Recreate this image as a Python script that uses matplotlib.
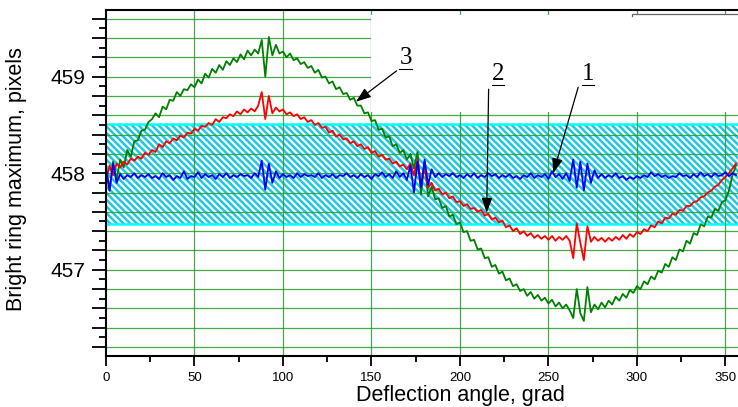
#!/usr/bin/env python3
"""Bright ring maximum vs deflection angle, three curves with a tolerance band."""

import matplotlib
import matplotlib.pyplot as plt
import numpy as np
from matplotlib.patches import Rectangle
from matplotlib.ticker import FuncFormatter, MultipleLocator

matplotlib.use("Agg")

plt.rcParams["font.family"] = ["Liberation Sans", "DejaVu Sans"]
plt.rcParams["hatch.color"] = "#1ec8e0"
plt.rcParams["hatch.linewidth"] = 1.8

# sampled every 2 grad, 0 .. 356
angles = np.arange(0, 357, 2)

curve3_green = [
    458.05, 457.82, 458.12, 457.93, 458.14, 458.06, 458.24, 458.17, 458.33, 458.34,
    458.44, 458.45, 458.53, 458.56, 458.62, 458.58, 458.69, 458.66, 458.76, 458.75,
    458.84, 458.80, 458.87, 458.86, 458.92, 458.89, 458.97, 458.93, 459.03, 458.99,
    459.08, 459.04, 459.12, 459.07, 459.16, 459.12, 459.19, 459.15, 459.23, 459.18,
    459.27, 459.22, 459.28, 459.24, 459.38, 459.00, 459.41, 459.22, 459.33, 459.24,
    459.26, 459.20, 459.24, 459.17, 459.19, 459.13, 459.15, 459.09, 459.11, 459.04,
    459.07, 458.99, 459.00, 458.93, 458.95, 458.87, 458.89, 458.82, 458.83, 458.76,
    458.78, 458.70, 458.70, 458.62, 458.63, 458.54, 458.55, 458.45, 458.46, 458.37,
    458.38, 458.28, 458.30, 458.21, 458.24, 458.14, 458.20, 458.05, 458.22, 457.78,
    458.12, 457.76, 457.86, 457.73, 457.74, 457.64, 457.66, 457.55, 457.57, 457.47,
    457.49, 457.39, 457.40, 457.30, 457.31, 457.21, 457.22, 457.12, 457.13, 457.03,
    457.05, 456.96, 456.98, 456.89, 456.91, 456.83, 456.85, 456.78, 456.80, 456.73,
    456.77, 456.70, 456.74, 456.68, 456.71, 456.65, 456.69, 456.62, 456.66, 456.60,
    456.64, 456.58, 456.50, 456.80, 456.55, 456.47, 456.82, 456.56, 456.64, 456.59,
    456.66, 456.61, 456.68, 456.64, 456.72, 456.68, 456.75, 456.71, 456.79, 456.76,
    456.83, 456.80, 456.88, 456.85, 456.93, 456.90, 456.99, 456.97, 457.06, 457.03,
    457.13, 457.10, 457.21, 457.19, 457.30, 457.27, 457.38, 457.36, 457.47, 457.45,
    457.55, 457.54, 457.63, 457.61, 457.70, 457.72, 457.82, 457.98, 458.08,
]

curve2_red = [
    457.92, 458.08, 457.98, 458.10, 458.06, 458.12, 458.09, 458.15, 458.13, 458.17,
    458.15, 458.21, 458.19, 458.24, 458.22, 458.30, 458.27, 458.33, 458.31, 458.36,
    458.34, 458.39, 458.37, 458.42, 458.41, 458.46, 458.44, 458.49, 458.48, 458.52,
    458.50, 458.56, 458.53, 458.58, 458.57, 458.61, 458.59, 458.64, 458.61, 458.66,
    458.63, 458.67, 458.64, 458.70, 458.84, 458.56, 458.80, 458.62, 458.68, 458.64,
    458.66, 458.61, 458.63, 458.59, 458.61, 458.56, 458.58, 458.53, 458.55, 458.50,
    458.52, 458.47, 458.48, 458.42, 458.44, 458.38, 458.40, 458.35, 458.36, 458.31,
    458.33, 458.28, 458.30, 458.25, 458.27, 458.21, 458.23, 458.17, 458.19, 458.14,
    458.15, 458.10, 458.12, 458.07, 458.09, 458.04, 458.10, 457.98, 458.14, 457.88,
    458.06, 457.85, 457.90, 457.82, 457.84, 457.78, 457.80, 457.74, 457.76, 457.70,
    457.71, 457.66, 457.68, 457.63, 457.64, 457.60, 457.62, 457.56, 457.58, 457.52,
    457.54, 457.49, 457.51, 457.44, 457.46, 457.40, 457.43, 457.37, 457.40, 457.35,
    457.38, 457.33, 457.36, 457.32, 457.35, 457.31, 457.35, 457.30, 457.34, 457.31,
    457.35, 457.30, 457.12, 457.48, 457.28, 457.10, 457.45, 457.29, 457.34, 457.30,
    457.33, 457.29, 457.33, 457.30, 457.34, 457.31, 457.36, 457.32, 457.37, 457.34,
    457.39, 457.37, 457.42, 457.40, 457.46, 457.44, 457.50, 457.48, 457.54, 457.53,
    457.58, 457.57, 457.62, 457.61, 457.66, 457.66, 457.70, 457.71, 457.75, 457.76,
    457.80, 457.82, 457.86, 457.88, 457.93, 457.96, 458.00, 458.05, 458.10,
]

curve1_blue = [
    458.06, 457.82, 458.10, 457.90, 457.99, 457.94, 457.98, 457.96, 458.00, 457.95,
    457.98, 457.96, 457.99, 457.95, 457.97, 457.94, 458.00, 457.96, 457.98, 457.93,
    457.97, 457.95, 458.02, 457.94, 457.97, 457.96, 458.01, 457.95, 457.99, 457.96,
    457.98, 457.94, 457.99, 457.96, 458.00, 457.95, 457.98, 457.96, 457.99, 457.97,
    457.98, 457.95, 458.00, 457.96, 458.13, 457.83, 458.10, 457.90, 458.02, 457.95,
    457.99, 457.96, 457.98, 457.95, 458.00, 457.96, 457.99, 457.97, 457.98, 457.96,
    458.00, 457.95, 457.98, 457.96, 457.99, 457.95, 457.98, 457.97, 458.00, 457.96,
    457.98, 457.95, 457.99, 457.96, 457.98, 457.94, 457.99, 457.97, 458.01, 457.96,
    457.99, 457.95, 458.02, 457.96, 458.00, 457.93, 458.08, 457.80, 458.12, 457.85,
    458.14, 457.88, 458.04, 457.96, 458.00, 457.96, 457.99, 457.97, 458.00, 457.96,
    457.98, 457.95, 457.99, 457.96, 458.00, 457.95, 457.98, 457.96, 458.00, 457.97,
    457.99, 457.95, 457.98, 457.96, 457.99, 457.95, 457.97, 457.94, 457.98, 457.96,
    458.00, 457.95, 457.98, 457.96, 457.99, 457.94, 458.02, 457.96, 457.99, 457.94,
    458.00, 457.92, 458.14, 457.85, 458.12, 457.82, 458.10, 457.90, 458.03, 457.95,
    457.99, 457.95, 457.98, 457.96, 458.00, 457.95, 457.97, 457.93, 457.96, 457.94,
    457.97, 457.95, 457.98, 457.96, 458.01, 457.97, 457.99, 457.96, 457.98, 457.95,
    457.97, 457.96, 458.00, 457.97, 457.98, 457.95, 457.99, 457.96, 458.01, 457.97,
    457.99, 457.96, 458.00, 457.97, 457.98, 458.01, 457.97, 458.00, 457.98,
]

band_low, band_high = 457.47, 458.51

# curve labels: (text, text x, text y, arrow tail, arrow head)
labels = [
    ("3", 169.4, 459.19, (164.2, 459.06), (141.2, 458.74)),
    ("2", 221.5, 459.03, (216.2, 458.87), (215.1, 457.59)),
    ("1", 272.3, 459.03, (266.8, 458.89), (252.7, 458.00)),
]

fig = plt.figure(figsize=(7.38, 4.07), dpi=100)
ax = fig.add_axes([106 / 738, 1 - 355.7 / 407, 1 - 106 / 738, (355.7 - 10) / 407])

ax.set_xlim(0, 357.1)
ax.set_ylim(456.11, 459.69)

# hatched tolerance band
ax.axhspan(band_low, band_high, facecolor="white", edgecolor="#1ec8e0",
           hatch="\\\\\\\\\\", linewidth=0, zorder=1)
for yb in (band_low, band_high):
    ax.axhline(yb, color="#00ffff", lw=1.8, zorder=1.5)

# grid
for yg in np.arange(456.2, 459.7, 0.2):
    ax.axhline(yg, color="#2a9a2a", lw=0.9, alpha=0.85, zorder=2)
for xg in range(50, 360, 50):
    ax.axvline(xg, color="#2a9a2a", lw=0.9, alpha=0.85, zorder=2)

# blank region in the upper right (legend area of the original)
ax.add_patch(Rectangle((150, 458.63), 220, 1.01, facecolor="white",
                       edgecolor="none", zorder=2.5))
ax.plot([297, 297, 360], [459.625, 459.645, 459.645], color="#666666",
        lw=0.9, zorder=2.6, clip_on=False)

ax.plot(angles, curve3_green, color="#008000", lw=1.3, zorder=3)
ax.plot(angles, curve2_red, color="#ff0000", lw=1.3, zorder=3.1)
ax.plot(angles, curve1_blue, color="#0000ff", lw=1.3, zorder=3.2)

for text, tx, ty, tail, head in labels:
    ax.text(tx, ty, text, ha="center", va="center", fontsize=18,
            family=["Liberation Serif", "DejaVu Serif"], zorder=5)
    ax.plot([tx - 3.6, tx + 3.6], [ty - 0.115, ty - 0.115], color="black",
            lw=0.8, zorder=5)
    ax.annotate("", xy=head, xytext=tail, zorder=5,
                arrowprops=dict(arrowstyle="-|>,head_length=0.75,head_width=0.27",
                                mutation_scale=12, color="black", lw=0.9,
                                shrinkA=0, shrinkB=0))

# axes styling
ax.spines["right"].set_visible(False)
for side in ("left", "top", "bottom"):
    ax.spines[side].set_linewidth(1.5)
    ax.spines[side].set_zorder(6)

ax.xaxis.set_major_locator(MultipleLocator(50))
ax.xaxis.set_minor_locator(MultipleLocator(25))
ax.yaxis.set_major_locator(MultipleLocator(0.2))
ax.yaxis.set_minor_locator(MultipleLocator(0.1))
ax.yaxis.set_major_formatter(
    FuncFormatter(lambda v, _: f"{v:.0f}" if abs(v - round(v)) < 1e-6 else ""))

ax.tick_params(axis="x", which="major", direction="out", length=7, width=1.3,
               labelsize=9.5, pad=5)
ax.tick_params(axis="x", which="minor", direction="out", length=4, width=1.3)
ax.tick_params(axis="y", which="major", direction="out", length=10, width=1.3,
               labelsize=15, pad=5)
ax.tick_params(axis="y", which="minor", direction="out", length=5, width=1.3)

fig.text(17 / 738, 1 - 179 / 407, "Bright ring maximum, pixels", rotation=90,
         ha="center", va="center", fontsize=15.5)
fig.text(460 / 738, 1 - 395 / 407, "Deflection angle, grad", ha="center",
         va="center", fontsize=15.5)

fig.savefig("out.png", dpi=100)
